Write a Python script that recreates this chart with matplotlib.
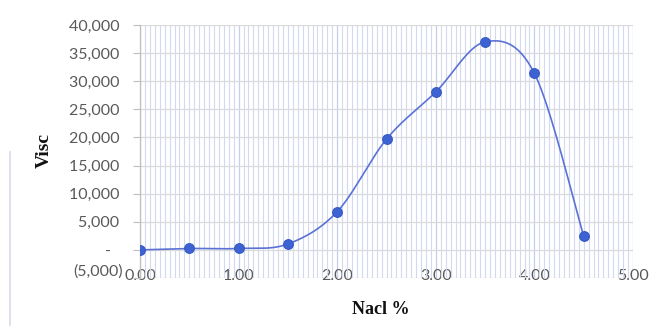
import numpy as np
import matplotlib
matplotlib.use("Agg")
import matplotlib.pyplot as plt
from matplotlib.ticker import MultipleLocator, FuncFormatter
from matplotlib.lines import Line2D
from matplotlib.transforms import ScaledTranslation

# NaCl concentration (%) and measured viscosity
nacl_pct = [0.0, 0.5, 1.0, 1.5, 2.0, 2.5, 3.0, 3.5, 4.0, 4.5]
viscosity = [0, 250, 250, 1050, 6800, 19700, 28100, 37000, 31400, 2400]

x_ticks = [0, 1, 2, 3, 4, 5]
y_ticks = [-5000, 0, 5000, 10000, 15000, 20000, 25000, 30000, 35000, 40000]


def smooth_curve(xs, ys, n=40, k=1 / 6):
    """Cubic Bezier smoothing through every point (Catmull-Rom style)."""
    xs = np.asarray(xs, float)
    ys = np.asarray(ys, float)
    px = np.concatenate([[xs[0]], xs, [xs[-1]]])
    py = np.concatenate([[ys[0]], ys, [ys[-1]]])
    out_x, out_y = [], []
    t = np.linspace(0, 1, n)
    for i in range(1, len(px) - 2):
        p0 = np.array([px[i], py[i]])
        p3 = np.array([px[i + 1], py[i + 1]])
        p1 = p0 + (np.array([px[i + 1], py[i + 1]]) - np.array([px[i - 1], py[i - 1]])) * k
        p2 = p3 - (np.array([px[i + 2], py[i + 2]]) - np.array([px[i], py[i]])) * k
        b = ((1 - t) ** 3)[:, None] * p0 + (3 * (1 - t) ** 2 * t)[:, None] * p1 \
            + (3 * (1 - t) * t ** 2)[:, None] * p2 + (t ** 3)[:, None] * p3
        out_x.extend(b[:, 0])
        out_y.extend(b[:, 1])
    return np.array(out_x), np.array(out_y)


def acct_fmt(v, pos=None):
    if v == 0:
        return "-\u00a0\u00a0\u00a0"
    if v < 0:
        return "({:,.0f})".format(-v)
    return "{:,.0f}\u00a0".format(v)


fig = plt.figure(figsize=(6.57, 3.26), dpi=100)
ax = fig.add_axes([140 / 657, 48 / 326, 493 / 657, 253 / 326])

ax.set_xlim(0, 5)
ax.set_ylim(-5000, 40000)

# gridlines
ax.xaxis.set_minor_locator(MultipleLocator(0.05))
ax.set_xticks(x_ticks)
ax.set_yticks(y_ticks)
ax.grid(which="minor", axis="x", color="#d2daf0", linewidth=0.8)
ax.grid(which="major", axis="x", color="#c6cfea", linewidth=0.9)
ax.grid(which="major", axis="y", color="#dadada", linewidth=0.9)
ax.set_axisbelow(True)

for side in ("top", "right", "bottom"):
    ax.spines[side].set_visible(False)
ax.spines["left"].set_color("#bfbfbf")
ax.spines["left"].set_linewidth(0.9)

tick_font = "Lato"
ax.yaxis.set_major_formatter(FuncFormatter(acct_fmt))
ax.tick_params(axis="y", which="major", length=5, color="#bfbfbf", pad=7,
               labelsize=11.5, labelcolor="#595959")
ax.xaxis.set_major_formatter(FuncFormatter(lambda v, p: "{:.2f}".format(v)))
ax.tick_params(axis="x", which="both", length=0, pad=-6.5,
               labelsize=11.5, labelcolor="#595959")
for lab in ax.get_xticklabels() + ax.get_yticklabels():
    lab.set_fontfamily(tick_font)

# the lowest value label sits level with the category labels
low_tick = ax.yaxis.get_major_ticks()[0]
low_tick.label1.set_transform(low_tick.label1.get_transform()
                              + ScaledTranslation(0, 8 / 100, fig.dpi_scale_trans))

sx, sy = smooth_curve(nacl_pct, viscosity)
ax.plot(sx, sy, color="#5a72d6", linewidth=1.2, zorder=3)
ax.plot(nacl_pct, viscosity, linestyle="none", marker="o", markersize=7,
        markerfacecolor="#3d63d2", markeredgecolor="#3658c4",
        markeredgewidth=0.8, zorder=4)

fig.text(44 / 657, 1 - 150 / 326, "Visc", rotation=90, ha="center", va="center",
         family="Liberation Serif", fontweight="bold", fontsize=14, color="#111111")
fig.text(381 / 657, 1 - 310 / 326, "Nacl %", ha="center", va="center",
         family="Liberation Serif", fontweight="bold", fontsize=13, color="#111111")

# chart frame edge on the left
fig.add_artist(Line2D([10 / 657, 10 / 657], [0, 1 - 152 / 326],
                      transform=fig.transFigure, color="#d5dcea", linewidth=1.2))

fig.savefig("out.png", dpi=100)
